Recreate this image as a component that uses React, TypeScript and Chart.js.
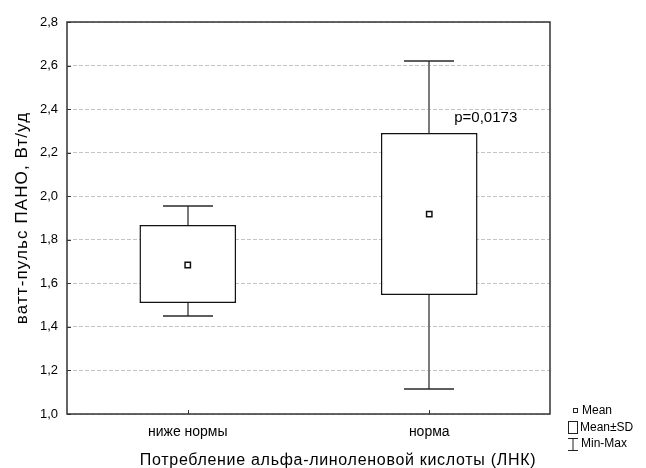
import React, { useEffect, useRef } from "react";
import { Chart, registerables } from "chart.js";

Chart.register(...registerables);

const categories = ["ниже нормы", "норма"];
const meanValues = [1.684, 1.918];
const sdLow = [1.51, 1.546];
const sdHigh = [1.868, 2.29];
const minValues = [1.452, 1.115];
const maxValues = [1.955, 2.62];
const yTicks = [1.0, 1.2, 1.4, 1.6, 1.8, 2.0, 2.2, 2.4, 2.6, 2.8];
const pLabel = "p=0,0173";
const xTitle = "Потребление альфа-линоленовой кислоты (ЛНК)";
const yTitle = "ватт-пульс ПАНО, Вт/уд";
const legendItems = ["Mean", "Mean±SD", "Min-Max"];

const FONT = "'Liberation Sans', Arial, sans-serif";

const boxPlugin = {
  id: "boxExtras",
  beforeDatasetsDraw(chart: any) {
    const { ctx, scales } = chart;
    const x = scales.x;
    const y = scales.y;
    const area = chart.chartArea;
    ctx.save();
    ctx.strokeStyle = "#333333";
    ctx.lineWidth = 1;
    yTicks.forEach((v) => {
      const py = Math.round(y.getPixelForValue(v)) + 0.5;
      ctx.beginPath();
      ctx.moveTo(area.left, py);
      ctx.lineTo(area.left + 4, py);
      ctx.stroke();
    });
    categories.forEach((_, i) => {
      const px = Math.round(x.getPixelForValue(i)) + 0.5;
      ctx.beginPath();
      ctx.moveTo(px, area.bottom);
      ctx.lineTo(px, area.bottom - 4);
      ctx.stroke();
    });
    categories.forEach((_, i) => {
      const px = Math.round(x.getPixelForValue(i));
      const yMax = Math.round(y.getPixelForValue(maxValues[i]));
      const yMin = Math.round(y.getPixelForValue(minValues[i]));
      const yHi = y.getPixelForValue(sdHigh[i]);
      const yLo = y.getPixelForValue(sdLow[i]);
      ctx.strokeStyle = "#7a7a7a";
      ctx.lineWidth = 2;
      ctx.beginPath();
      ctx.moveTo(px, yMax);
      ctx.lineTo(px, yHi);
      ctx.moveTo(px, yLo);
      ctx.lineTo(px, yMin);
      ctx.stroke();
      ctx.strokeStyle = "#2a2a2a";
      ctx.lineWidth = 1.5;
      ctx.beginPath();
      ctx.moveTo(px - 25, yMax);
      ctx.lineTo(px + 25, yMax);
      ctx.moveTo(px - 25, yMin);
      ctx.lineTo(px + 25, yMin);
      ctx.stroke();
    });
    ctx.restore();
  },
  afterDraw(chart: any) {
    const { ctx, scales } = chart;
    const area = chart.chartArea;
    const x = scales.x;
    const y = scales.y;
    ctx.save();
    ctx.strokeStyle = "#333333";
    ctx.lineWidth = 1.5;
    ctx.strokeRect(area.left, area.top, area.right - area.left, area.bottom - area.top);
    ctx.fillStyle = "#000";
    ctx.font = `15px ${FONT}`;
    ctx.textAlign = "left";
    ctx.textBaseline = "middle";
    ctx.fillText(pLabel, x.getPixelForValue(1) + 25, y.getPixelForValue(2.36));
    ctx.font = `16px ${FONT}`;
    ctx.textAlign = "center";
    (ctx as any).letterSpacing = "0.7px";
    ctx.fillText(xTitle, 338, 461);
    ctx.font = `17px ${FONT}`;
    (ctx as any).letterSpacing = "1.1px";
    ctx.save();
    ctx.translate(22, (area.top + area.bottom) / 2);
    ctx.rotate(-Math.PI / 2);
    ctx.fillText(yTitle, 0, 0);
    ctx.restore();
    (ctx as any).letterSpacing = "0px";
    ctx.font = `12px ${FONT}`;
    ctx.textAlign = "left";
    ctx.strokeStyle = "#222";
    ctx.lineWidth = 1;
    ctx.strokeRect(573.5, 408.5, 4, 4);
    ctx.fillText(legendItems[0], 582, 411);
    ctx.strokeRect(568.5, 421.5, 9, 12);
    ctx.fillText(legendItems[1], 580, 428);
    ctx.beginPath();
    ctx.moveTo(568, 438.5);
    ctx.lineTo(578, 438.5);
    ctx.moveTo(573, 438.5);
    ctx.lineTo(573, 450.5);
    ctx.moveTo(568, 450.5);
    ctx.lineTo(578, 450.5);
    ctx.stroke();
    ctx.fillText(legendItems[2], 581, 444);
    ctx.restore();
  },
};

export default function App() {
  const ref = useRef<HTMLCanvasElement | null>(null);
  useEffect(() => {
    if (!ref.current) return;
    const chart = new Chart(ref.current, {
      type: "bar",
      data: {
        labels: categories,
        datasets: [
          {
            type: "line",
            data: meanValues,
            showLine: false,
            pointStyle: "rect",
            pointRadius: 3.8,
            pointBorderWidth: 1.5,
            pointBorderColor: "#111",
            pointBackgroundColor: "#fff",
            order: 0,
          } as any,
          {
            type: "bar",
            data: categories.map((_, i) => [sdLow[i], sdHigh[i]]),
            backgroundColor: "#ffffff",
            borderColor: "#111111",
            borderWidth: 1.5,
            borderSkipped: false,
            barPercentage: 0.4,
            categoryPercentage: 1,
            order: 1,
          } as any,
        ],
      },
      options: {
        animation: false,
        responsive: false,
        maintainAspectRatio: false,
        layout: { padding: { top: 22, right: 96, left: 0, bottom: 0 } },
        plugins: { legend: { display: false }, tooltip: { enabled: false } },
        scales: {
          x: {
            grid: { display: false, drawTicks: false },
            border: { display: false },
            ticks: { color: "#000", font: { family: FONT, size: 14 }, padding: 10 },
            afterFit: (s: any) => {
              s.height = 54;
            },
          },
          y: {
            min: 1.0,
            max: 2.8,
            grid: { color: "#c4c4c4", lineWidth: 1, drawTicks: false },
            border: { display: false, dash: [4, 2] },
            ticks: {
              stepSize: 0.2,
              color: "#000",
              font: { family: FONT, size: 13 },
              padding: 9,
              callback: (v: any) => Number(v).toFixed(1).replace(".", ","),
            },
            afterFit: (s: any) => {
              s.width = 67;
            },
          },
        },
      },
      plugins: [boxPlugin],
    });
    return () => chart.destroy();
  }, []);
  return (
    <div style={{ position: "fixed", left: 0, top: 0, width: 646, height: 468, background: "#fff" }}>
      <canvas ref={ref} width={646} height={468} />
    </div>
  );
}
